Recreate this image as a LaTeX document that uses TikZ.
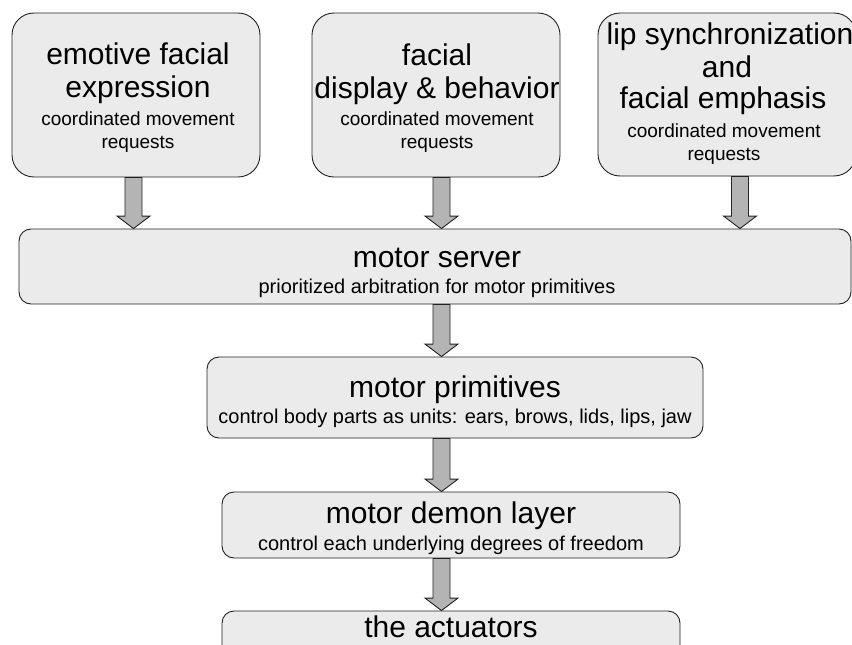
\documentclass[tikz,border=0pt]{standalone}
\usepackage{fontspec}
\setmainfont{Liberation Sans}
\usetikzlibrary{calc}
\definecolor{boxfill}{HTML}{EBEBEB}
\definecolor{arrowfill}{HTML}{B4B4B4}
\definecolor{edge}{HTML}{222222}
\tikzset{
  box/.style={draw=edge, fill=boxfill, line width=0.9pt, inner sep=0pt},
  topbox/.style={box, rounded corners=22pt},
  lowbox/.style={box, rounded corners=12pt},
  big/.style={anchor=base, inner sep=0pt, font=\fontsize{30}{30}\selectfont},
  small/.style={anchor=base, inner sep=0pt, font=\fontsize{19}{20}\selectfont},
  smallb/.style={anchor=base, inner sep=0pt, font=\fontsize{20}{21}\selectfont},
  fatarrow/.style={draw=edge, fill=arrowfill, line width=0.9pt, line join=miter}
}
\newcommand\fatarrow[2]{%
  \draw[fatarrow] let \p1=(#1), \p2=(#2) in
    (\x1-8.5pt,\y1) -- (\x1+8.5pt,\y1) -- (\x1+8.5pt,\y2+12.5pt) -- (\x1+16.5pt,\y2+12.5pt)
    -- (\x1,\y2) -- (\x1-16.5pt,\y2+12.5pt) -- (\x1-8.5pt,\y2+12.5pt) -- cycle;}
\begin{document}
\begin{tikzpicture}[x=1pt,y=-1pt]
\useasboundingbox (0,0) rectangle (852,645);
\clip (0,0) rectangle (852,645);
\fill[white] (0,0) rectangle (852,645);
% boxes
\node[topbox, minimum width=248pt, minimum height=164pt] (b1) at (136,95) {};
\node[topbox, minimum width=248pt, minimum height=164pt] (b2) at (436,95) {};
\node[topbox, minimum width=258pt, minimum height=163pt] (b3) at (727,94.5) {};
\node[lowbox, minimum width=832pt, minimum height=75pt] (ms) at (435,266.5) {};
\node[lowbox, minimum width=496pt, minimum height=81pt] (mp) at (455,397.5) {};
\node[lowbox, minimum width=458pt, minimum height=66pt] (md) at (451,525) {};
\node[lowbox, minimum width=458pt, minimum height=66pt] (ac) at (451,644) {};
% texts
\node[big] (t1a) at (138,64) {emotive facial};
\node[big] (t1b) at (138,97) {expression};
\node[small] (t1c) at (138,125) {coordinated movement};
\node[small] (t1d) at (138,148) {requests};
\node[big] (t2a) at (437,65) {facial};
\node[big] (t2b) at (437,98) {display \& behavior};
\node[small] (t2c) at (437,125) {coordinated movement};
\node[small] (t2d) at (437,148) {requests};
\node[big] (t3a) at (730,45) {lip synchronization};
\node[big] (t3b) at (727,77) {and};
\node[big] (t3c) at (723,108) {facial emphasis};
\node[small] (t3d) at (724,137) {coordinated movement};
\node[small] (t3e) at (724,160) {requests};
\node[big] (tms) at (437,267) {motor server};
\node[smallb] (tms2) at (437,293) {prioritized arbitration for motor primitives};
\node[big] (tmp) at (455,397) {motor primitives};
\node[smallb] (tmp2) at (455,423) {control body parts as units: ears, brows, lids, lips, jaw};
\node[big] (tmd) at (451,523) {motor demon layer};
\node[smallb] (tmd2) at (451,550) {control each underlying degrees of freedom};
\node[big] (tac) at (451,637) {the actuators};
% arrow axes
\coordinate (x1) at (133.5,0);
\coordinate (x2) at (441.5,0);
\coordinate (x3) at (740,0);
\coordinate (xc) at (441.5,0);
\fatarrow{b1.south -| x1}{ms.north -| x1}
\fatarrow{b2.south -| x2}{ms.north -| x2}
\fatarrow{b3.south -| x3}{ms.north -| x3}
\fatarrow{ms.south -| xc}{mp.north -| xc}
\fatarrow{mp.south -| xc}{md.north -| xc}
\fatarrow{md.south -| xc}{ac.north -| xc}
\end{tikzpicture}
\end{document}
